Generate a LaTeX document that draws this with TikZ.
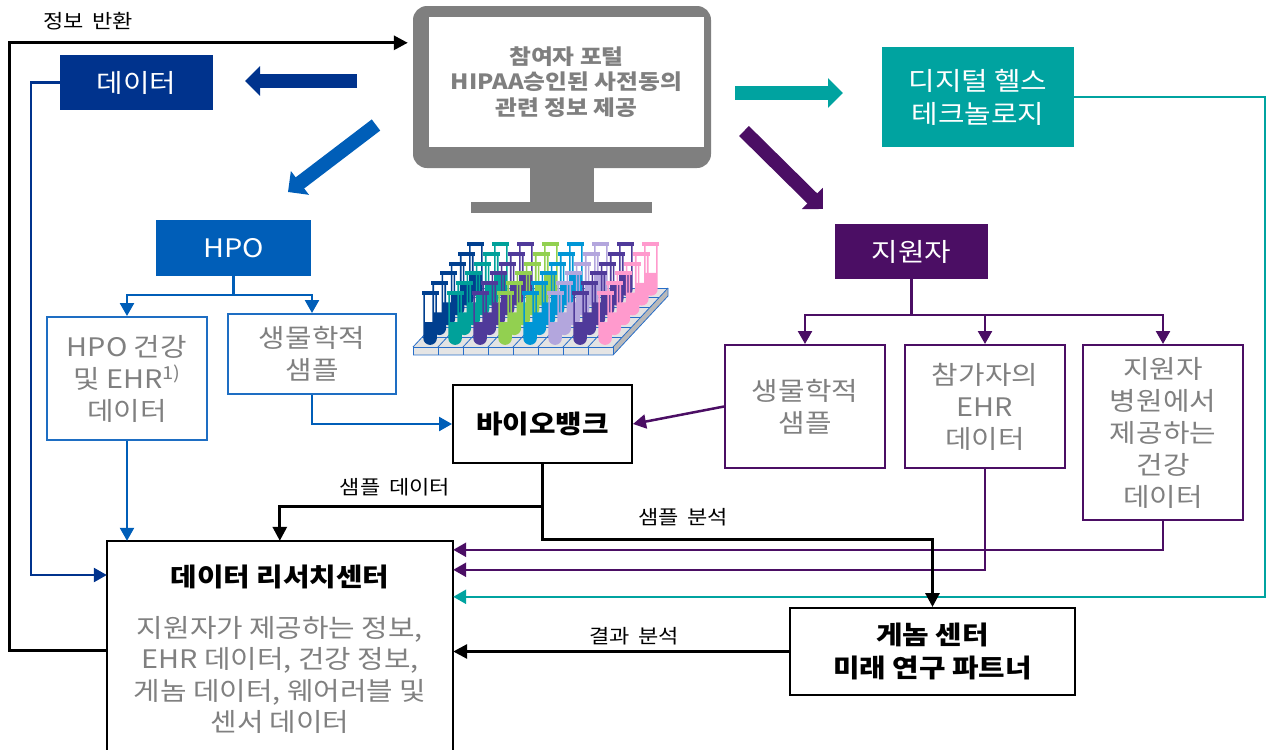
\documentclass[tikz,border=0pt]{standalone}
\usepackage{fontspec}
\setmainfont{Noto Sans CJK KR}[FakeStretch=1.13]
\usetikzlibrary{arrows.meta,calc}
\definecolor{dblue}{RGB}{0,51,141}
\definecolor{hblue}{RGB}{0,94,184}
\definecolor{lblue}{RGB}{30,110,195}
\definecolor{teal2}{RGB}{0,163,160}
\definecolor{purp}{RGB}{75,14,100}
\definecolor{gtext}{RGB}{128,128,128}
\definecolor{mgray}{RGB}{127,127,127}
\definecolor{tc0}{RGB}{0,63,143}
\definecolor{tc1}{RGB}{0,161,154}
\definecolor{tc2}{RGB}{79,58,154}
\definecolor{tc3}{RGB}{146,208,80}
\definecolor{tc4}{RGB}{0,150,214}
\definecolor{tc5}{RGB}{179,166,221}
\definecolor{tc6}{RGB}{79,58,154}
\definecolor{tc7}{RGB}{255,154,205}
\definecolor{trayline}{RGB}{40,110,200}
\newcommand{\wsp}{\hspace{0.45em}}
\begin{document}
\begin{tikzpicture}[x=1pt,y=-1pt,
  conn/.style={line width=2.5pt,-{Triangle[length=13pt,width=14pt]}},
  bconn/.style={line width=3pt,black,-{Triangle[length=14pt,width=14pt]}},
  blockarr/.style={line width=14pt,-{Triangle[length=15pt,width=29pt]}},
  fillbox/.style={rectangle,inner sep=0pt,text=white,font=\fontsize{25.5}{33}\selectfont,align=center},
  outbox/.style={rectangle,draw,line width=2pt,inner sep=0pt,text=gtext,font=\fontsize{25.5}{32}\selectfont,align=center},
  blackbox/.style={rectangle,draw=black,line width=2pt,inner sep=0pt,text=black,font=\bfseries\fontsize{25.5}{33}\selectfont,align=center},
  lbl/.style={inner sep=0pt,text=black,font=\fontsize{19.5}{22}\selectfont}
]
\useasboundingbox (0,0) rectangle (1270,750);

% ---------- monitor ----------
\fill[mgray] (530,160) rectangle (594,204);
\fill[mgray] (471,202) rectangle (652,213);
\node[rectangle,fill=mgray,rounded corners=14pt,minimum width=298pt,minimum height=162pt,inner sep=0pt] (monitor) at (562,87) {};
\node[rectangle,fill=white,minimum width=275pt,minimum height=130pt,inner sep=0pt,text=mgray,font=\bfseries\fontsize{21}{25.5}\selectfont,align=center] (screen) at (566.5,82) {참여자 포털\\HIPAA승인된 사전동의\\관련 정보 제공};

% ---------- test tube rack ----------
\fill[gray!22] (413,347) -- (613,347) -- (668,288) -- (468,288) -- cycle;
\fill[gray!55] (613,347) -- (668,288) -- (668,296) -- (613,355) -- cycle;
\fill[gray!20] (413,347) rectangle (613,355);
\foreach \u in {0,...,8} {
  \draw[trayline,line width=0.8pt] ({413+25*\u},347) -- ({468+25*\u},288);
  \draw[trayline,line width=0.8pt] ({413+25*\u},347) -- ({413+25*\u},355);
}
\foreach \v in {0,...,6} {
  \draw[trayline,line width=0.8pt] ({413+9.17*\v},{347-9.83*\v}) -- ({613+9.17*\v},{347-9.83*\v});
}
\draw[trayline,line width=0.8pt] (413,355) -- (613,355) -- (668,296) -- (668,288);
\foreach \r in {5,4,3,2,1,0} {
  \foreach \c/\col in {0/tc0,1/tc1,2/tc2,3/tc3,4/tc4,5/tc5,6/tc6,7/tc7} {
    \pgfmathsetmacro\bx{413+25*(\c+0.5)+9.17*(\r+0.5)}
    \pgfmathsetmacro\by{347-9.83*(\r+0.5)+2}
    \fill[\col] (\bx-6,\by-22) [rounded corners=6pt] -- (\bx-6,\by) -- (\bx+6,\by) [sharp corners] -- (\bx+6,\by-22) -- cycle;
    \draw[\col,line width=1.6pt] (\bx-6,\by-50) [rounded corners=6pt] -- (\bx-6,\by) -- (\bx+6,\by) [sharp corners] -- (\bx+6,\by-50);
    \fill[\col] (\bx-8.5,\by-53) rectangle (\bx+8.5,\by-49);
  }
}

% ---------- block arrows ----------
\draw[blockarr,dblue] (357,81) -- (245,81);
\draw[blockarr,hblue] (376,125) -- (288,192);
\draw[blockarr,teal2] (735,93) -- (843,93);
\draw[blockarr,purp] (744,131) -- (823,209);

% ---------- boxes ----------
\node[fillbox,fill=dblue,minimum width=153pt,minimum height=55pt] (data) at (136.5,82.5) {데이터};
\node[fillbox,fill=hblue,minimum width=155pt,minimum height=56pt] (hpo) at (233.5,248) {HPO};
\node[outbox,draw=lblue,minimum width=160pt,minimum height=123pt] (hpoehr) at (127,378.5) {HPO 건강\\및 EHR\textsuperscript{1)}\\데이터};
\node[outbox,draw=lblue,minimum width=168pt,minimum height=80pt] (hposample) at (312,354) {생물학적\\샘플};
\node[blackbox,minimum width=179pt,minimum height=78pt] (biobank) at (542.5,424) {바이오뱅크};
\node[fillbox,fill=teal2,minimum width=192pt,minimum height=100pt] (digital) at (978,97) {디지털 헬스\\테크놀로지};
\node[fillbox,fill=purp,minimum width=153pt,minimum height=55pt] (sponsor) at (911.5,251.5) {지원자};
\node[outbox,draw=purp,minimum width=160pt,minimum height=123pt] (ssample) at (805,406.5) {생물학적\\샘플};
\node[outbox,draw=purp,minimum width=160pt,minimum height=123pt] (sehr) at (985,406.5) {참가자의\\EHR\\데이터};
\node[outbox,draw=purp,minimum width=160pt,minimum height=175pt] (shosp) at (1163,432.5) {지원자\\병원에서\\제공하는\\건강\\데이터};
\node[blackbox,minimum width=285pt,minimum height=87pt] (genome) at (932.5,651.5) {게놈 센터\\미래 연구 파트너};

% research centre (box runs off the bottom edge)
\node[rectangle,inner sep=0pt,minimum width=346pt,minimum height=209pt] (research) at (280,645.5) {};
\draw[black,line width=2pt] (research.south west) -- (research.north west) -- (research.north east) -- (research.south east);
\node[inner sep=0pt,font=\bfseries\fontsize{25.5}{32}\selectfont] (rtitle) at (280,577) {데이터 리서치센터};
\node[inner sep=0pt,align=center,text=gtext,font=\fontsize{25.5}{31.5}\selectfont] (rbody) at (280,675) {지원자가 제공하는 정보,\\EHR 데이터, 건강 정보,\\게놈 데이터, 웨어러블 및\\센서 데이터};

% ---------- labels ----------
\node[lbl] (l1) at (88,21) {정보\wsp 반환};
\node[lbl] (l2) at (395,487) {샘플\wsp 데이터};
\node[lbl] (l3) at (683,517) {샘플\wsp 분석};
\node[lbl] (l4) at (634,636) {결과\wsp 분석};

% ---------- connectors ----------
\draw[bconn] ([yshift=-4.5pt]research.west) -- ++(-97,0) |- ($(monitor.north west)+(-5,37)$);
\draw[conn,dblue] (data.west) -- ++(-29,0) |- ([yshift=70.5pt]research.west);
\draw[conn,hblue] (hpo.south) -- ++(0,19) coordinate (hj) -| (hpoehr.north);
\draw[conn,hblue] (hj) -| (hposample.north);
\draw[conn,hblue] (hpoehr.south) -- (hpoehr.south |- research.north);
\draw[conn,hblue] (hposample.south) |- (biobank.west);
\draw[conn,purp] (ssample.west) -- (biobank.east);
\draw[conn,purp] (sponsor.south) -- ++(0,36) coordinate (sj) -| (ssample.north);
\draw[conn,purp] (sj) -| (sehr.north);
\draw[conn,purp] (sj) -| (shosp.north);
\draw[conn,purp] (shosp.south) |- ([yshift=-9pt]research.north east);
\draw[conn,purp] (sehr.south) |- ([yshift=-29pt]research.north east);
\draw[conn,teal2] (digital.east) -- ++(191,0) |- ([yshift=-56pt]research.north east);
\draw[bconn] (biobank.south) -- ++(0,42) coordinate (bj) -| ($(research.north west)+(173,0)$);
\draw[bconn] (bj) -- ++(0,33) -| (genome.north);
\draw[bconn] (genome.west) -- (genome.west -| research.east);
\end{tikzpicture}
\end{document}
